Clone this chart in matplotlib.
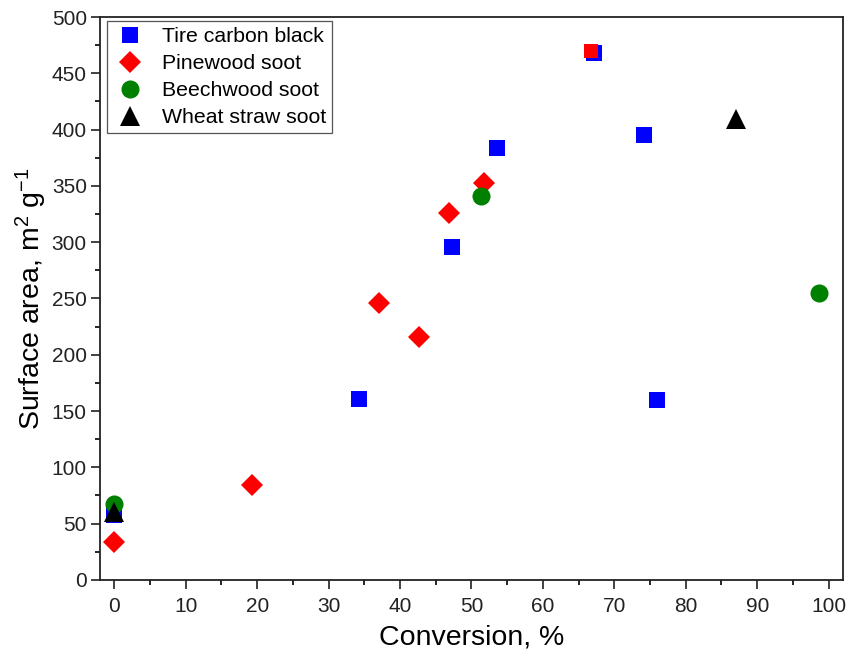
import numpy as np
import matplotlib
matplotlib.use("Agg")
import matplotlib.pyplot as plt
from matplotlib.ticker import MultipleLocator

plt.rcParams['font.family'] = ['Liberation Sans', 'DejaVu Sans']
plt.rcParams['axes.unicode_minus'] = False
plt.rcParams['mathtext.fontset'] = 'custom'
plt.rcParams['mathtext.rm'] = 'Liberation Sans'
plt.rcParams['mathtext.default'] = 'regular'

# data
tire_x = [0, 34.2, 47.3, 53.6, 67.1, 74.2, 76.0]
tire_y = [58, 161, 296, 384, 468, 395, 160]
pine_x = [0, 19.3, 37.0, 42.7, 46.8, 51.7]
pine_y = [34, 84, 246, 216, 326, 353]
pine_sq_x = [66.8]   # this one is drawn as a red square in the original
pine_sq_y = [470]
beech_x = [0, 51.3, 98.7]
beech_y = [67, 341, 255]
wheat_x = [0, 87.1]
wheat_y = [60, 409]

fig = plt.figure(figsize=(8.48, 6.56), dpi=100)
ax = fig.add_axes([0.118, 0.116, 0.876, 0.858])

ax.plot(tire_x, tire_y, 's', color='#0000ff', ms=11.5, mew=0, label='Tire carbon black')
ax.plot(pine_x, pine_y, 'D', color='#ff0000', ms=11.5, mew=0, label='Pinewood soot')
ax.plot(pine_sq_x, pine_sq_y, 's', color='#ff0000', ms=10, mew=0)
ax.plot(beech_x, beech_y, 'o', color='#008000', ms=13, mew=0, label='Beechwood soot')
ax.plot(wheat_x, wheat_y, '^', color='#000000', ms=14, mew=0, label='Wheat straw soot')

ax.set_xlim(-2, 102)
ax.set_ylim(0, 500)
ax.xaxis.set_major_locator(MultipleLocator(10))
ax.xaxis.set_minor_locator(MultipleLocator(5))
ax.yaxis.set_major_locator(MultipleLocator(50))
ax.yaxis.set_minor_locator(MultipleLocator(25))
ax.tick_params(which='major', direction='out', length=6.5, width=1.2, labelsize=15, colors='#222222')
ax.tick_params(which='minor', direction='out', length=3.5, width=1.2)
ax.tick_params(axis='x', which='major', pad=6)
ax.tick_params(axis='y', which='major', pad=3)
ax.tick_params(top=False, right=False)
for s in ax.spines.values():
    s.set_linewidth(1.3)
    s.set_color('#222222')

ax.set_xlabel('Conversion, %', fontsize=20.5, labelpad=6)
ax.set_ylabel('Surface area, m$^2$ g$^{-1}$', fontsize=20.5, labelpad=2)

leg = ax.legend(loc='upper left', bbox_to_anchor=(0.009, 0.993), borderaxespad=0,
                fontsize=15.3, fancybox=False, edgecolor='#555555', framealpha=1,
                handlelength=1.6, handletextpad=0.72, labelspacing=0.38,
                borderpad=0.28, numpoints=1)
leg.get_frame().set_linewidth(0.9)

fig.savefig('out.png', dpi=100)
